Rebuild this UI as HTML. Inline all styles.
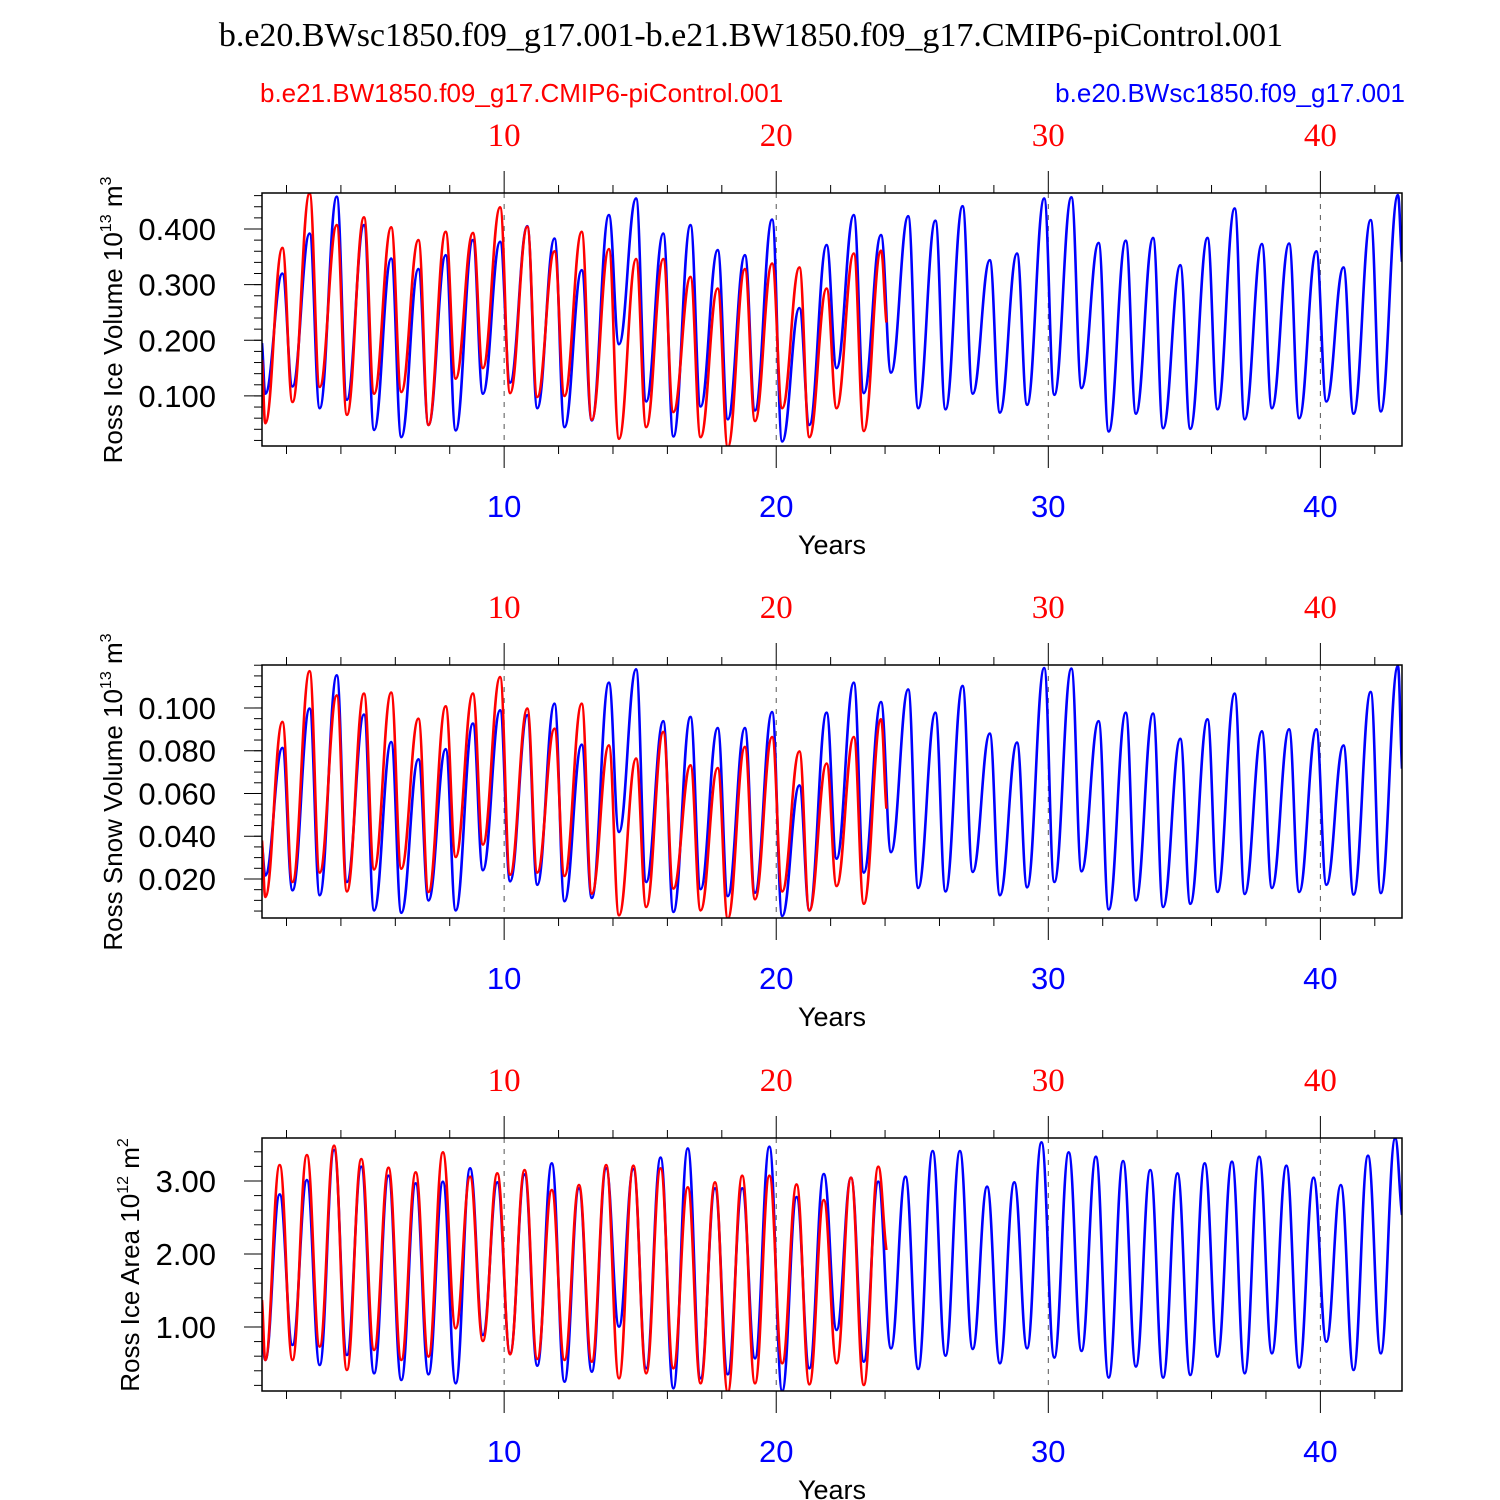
<!DOCTYPE html>
<html><head><meta charset="utf-8"><style>
html,body{margin:0;padding:0;background:#fff;}
svg{display:block;}
</style></head><body>
<svg id="chart" width="1500" height="1500" viewBox="0 0 1500 1500" xmlns="http://www.w3.org/2000/svg">
<text x="751" y="46" text-anchor="middle" font-family="Liberation Serif, serif" font-size="34">b.e20.BWsc1850.f09_g17.001-b.e21.BW1850.f09_g17.CMIP6-piControl.001</text>
<text x="260" y="102" font-family="Liberation Sans, sans-serif" font-size="26" fill="#ff0000">b.e21.BW1850.f09_g17.CMIP6-piControl.001</text>
<text x="1405" y="102" text-anchor="end" font-family="Liberation Sans, sans-serif" font-size="26" fill="#0000ff">b.e20.BWsc1850.f09_g17.001</text>
<g id="plots"></g>
</svg>
<script>
// ---- shared x axis ----
const xTickYears = [10, 20, 30, 40];
const xTickLabels = ["10", "20", "30", "40"];
const xMinorYears = [2,4,6,8,12,14,16,18,22,24,26,28,32,34,36,38,42];

// ---- panel 1: Ross Ice Volume ----
const p1YTicks = [0.1, 0.2, 0.3, 0.4];
const p1YTickLabels = ["0.100", "0.200", "0.300", "0.400"];
const p1BlueStart = 0.195;
const p1BlueTroughs = [0.104,0.117,0.078,0.093,0.039,0.026,0.048,0.038,0.104,0.124,0.078,0.044,0.056,0.193,0.090,0.027,0.081,0.058,0.074,0.018,0.048,0.150,0.105,0.142,0.078,0.076,0.104,0.070,0.084,0.102,0.114,0.036,0.068,0.042,0.041,0.076,0.058,0.078,0.060,0.090,0.068,0.072];
const p1BluePeaks = [0.320,0.392,0.458,0.407,0.347,0.328,0.353,0.380,0.377,0.405,0.383,0.326,0.425,0.455,0.392,0.407,0.362,0.353,0.417,0.258,0.371,0.425,0.389,0.423,0.415,0.441,0.344,0.356,0.455,0.457,0.375,0.379,0.384,0.335,0.384,0.437,0.373,0.374,0.360,0.331,0.416,0.461];
const p1BlueEnd = 0.341;
const p1RedStart = 0.165;
const p1RedTroughs = [0.051,0.089,0.116,0.066,0.104,0.107,0.048,0.131,0.150,0.105,0.098,0.100,0.057,0.023,0.044,0.071,0.026,0.008,0.055,0.078,0.026,0.078,0.037];
const p1RedPeaks = [0.366,0.464,0.407,0.421,0.403,0.380,0.395,0.393,0.439,0.404,0.360,0.395,0.364,0.346,0.346,0.314,0.293,0.328,0.338,0.331,0.293,0.356,0.361];
const p1RedEnd = 0.232;

// ---- panel 2: Ross Snow Volume ----
const p2YTicks = [0.02, 0.04, 0.06, 0.08, 0.1];
const p2YTickLabels = ["0.020", "0.040", "0.060", "0.080", "0.100"];
const p2BlueStart = 0.036;
const p2BlueTroughs = [0.0217,0.0147,0.0124,0.0186,0.0053,0.0042,0.0100,0.0053,0.0241,0.0189,0.0173,0.0096,0.0111,0.0420,0.0186,0.0046,0.0152,0.0120,0.0136,0.0027,0.0053,0.0295,0.0230,0.0326,0.0158,0.0142,0.0233,0.0124,0.0161,0.0186,0.0236,0.0058,0.0100,0.0069,0.0084,0.0139,0.0130,0.0158,0.0139,0.0173,0.0127,0.0134];
const p2BluePeaks = [0.0813,0.0997,0.1153,0.0969,0.0841,0.0760,0.0807,0.0927,0.0989,0.0966,0.1020,0.0828,0.1118,0.1181,0.0938,0.0958,0.0906,0.0906,0.0981,0.0638,0.0978,0.1118,0.1028,0.1087,0.0978,0.1103,0.0880,0.0838,0.1187,0.1184,0.0938,0.0978,0.0974,0.0856,0.0947,0.1067,0.0891,0.0900,0.0900,0.0825,0.1075,0.1196];
const p2BlueEnd = 0.0716;
const p2RedStart = 0.038;
const p2RedTroughs = [0.0116,0.0186,0.0230,0.0142,0.0245,0.0248,0.0139,0.0303,0.0361,0.0220,0.0230,0.0214,0.0131,0.0030,0.0069,0.0155,0.0053,0.0014,0.0105,0.0142,0.0053,0.0167,0.0084];
const p2RedPeaks = [0.0935,0.1172,0.1059,0.1067,0.1072,0.0950,0.1008,0.1067,0.1145,0.0997,0.0903,0.1020,0.0825,0.0763,0.0888,0.0732,0.0719,0.0818,0.0864,0.0797,0.0740,0.0864,0.0947];
const p2RedEnd = 0.0529;

// ---- panel 3: Ross Ice Area ----
const p3YTicks = [1, 2, 3];
const p3YTickLabels = ["1.00", "2.00", "3.00"];
const p3BlueStart = 0.85;
const p3BlueTroughs = [0.548,0.753,0.479,0.616,0.365,0.274,0.352,0.229,0.890,0.639,0.470,0.251,0.388,1.005,0.434,0.160,0.297,0.352,0.571,0.123,0.434,0.959,0.525,0.708,0.425,0.607,0.699,0.502,0.708,0.580,0.671,0.306,0.457,0.306,0.342,0.594,0.365,0.639,0.443,0.799,0.411,0.639];
const p3BluePeaks = [2.817,3.014,3.425,3.196,3.073,2.968,2.991,3.174,2.982,3.091,3.242,2.900,3.174,3.164,3.320,3.447,2.900,2.900,3.470,2.780,3.096,3.045,2.991,3.059,3.411,3.411,2.922,2.982,3.530,3.393,3.333,3.274,3.151,3.105,3.242,3.265,3.333,3.210,3.045,2.945,3.347,3.584];
const p3BlueEnd = 2.534;
const p3RedStart = 1.37;
const p3RedTroughs = [0.548,0.548,0.731,0.411,0.685,0.548,0.594,0.982,0.808,0.626,0.562,0.548,0.525,0.297,0.365,0.434,0.229,0.105,0.229,0.502,0.215,0.502,0.205];
const p3RedPeaks = [3.219,3.356,3.484,3.301,3.182,3.119,3.393,3.059,3.105,3.151,2.877,2.945,3.219,3.210,3.174,2.913,2.982,3.073,3.073,2.954,2.740,3.045,3.196];
const p3RedEnd = 2.055;

const NS = "http://www.w3.org/2000/svg";
const root = document.getElementById("plots");
const X0 = 262, X1 = 1402, XMIN = 1.1, XMAX = 43.0;
function xs(t){ return X0 + (t - XMIN) / (XMAX - XMIN) * (X1 - X0); }
function mk(tag, attrs, parent){
  const e = document.createElementNS(NS, tag);
  for (const k in attrs) e.setAttribute(k, attrs[k]);
  (parent || root).appendChild(e);
  return e;
}
function series(start, troughs, peaks, end, endT, peakFrac){
  const pts = [[XMIN, start]];
  for (let i = 0; i < troughs.length; i++){
    pts.push([i + 1 + 0.22, troughs[i]]);
    if (i < peaks.length) pts.push([i + 1 + peakFrac, peaks[i]]);
  }
  pts.push([endT, end]);
  return pts;
}
// smooth path through extrema with horizontal tangents at interior points
function smoothPath(P){
  let d = "M" + P[0][0].toFixed(1) + "," + P[0][1].toFixed(1);
  for (let i = 1; i < P.length; i++){
    const a = P[i-1], b = P[i], dx = b[0] - a[0];
    const k = 0.42;
    const c1y = (i - 1 === 0) ? a[1] + (b[1] - a[1]) * 0.3 : a[1];
    const c2y = (i === P.length - 1) ? b[1] - (b[1] - a[1]) * 0.3 : b[1];
    d += " C" + (a[0] + dx * k).toFixed(1) + "," + c1y.toFixed(1) + " " + (b[0] - dx * k).toFixed(1) + "," + c2y.toFixed(1) + " " + b[0].toFixed(1) + "," + b[1].toFixed(1);
  }
  return d;
}

const panels = [
  {key:"ice-volume", top:193, bot:446, ymin:0.010, ymax:0.4647, ticks:p1YTicks, labels:p1YTickLabels, minorStep:0.02,
   ylabel:["Ross Ice Volume 10","13"," m","3"], ylabX:122, ylabY:320, peakFrac:0.85,
   blue:[p1BlueStart,p1BlueTroughs,p1BluePeaks,p1BlueEnd], red:[p1RedStart,p1RedTroughs,p1RedPeaks,p1RedEnd]},
  {key:"snow-volume", top:665, bot:918, ymin:0.00175, ymax:0.1201, ticks:p2YTicks, labels:p2YTickLabels, minorStep:0.005,
   ylabel:["Ross Snow Volume 10","13"," m","3"], ylabX:122, ylabY:792, peakFrac:0.85,
   blue:[p2BlueStart,p2BlueTroughs,p2BluePeaks,p2BlueEnd], red:[p2RedStart,p2RedTroughs,p2RedPeaks,p2RedEnd]},
  {key:"ice-area", top:1138, bot:1391, ymin:0.123, ymax:3.589, ticks:p3YTicks, labels:p3YTickLabels, minorStep:0.2,
   ylabel:["Ross Ice Area 10","12"," m","2"], ylabX:139, ylabY:1265, peakFrac:0.75,
   blue:[p3BlueStart,p3BlueTroughs,p3BluePeaks,p3BlueEnd], red:[p3RedStart,p3RedTroughs,p3RedPeaks,p3RedEnd]}
];

panels.forEach((p, idx) => {
  const g = mk("g", {});
  
  
  const ys = v => p.bot - (v - p.ymin) / (p.ymax - p.ymin) * (p.bot - p.top);
  const cid = "clip" + idx;
  const cp = mk("clipPath", {id: cid}, g);
  mk("rect", {x: X0, y: p.top, width: X1 - X0, height: p.bot - p.top}, cp);

  xTickYears.forEach(t => {
    const l = mk("line", {x1: xs(t), x2: xs(t), y1: p.top, y2: p.bot, stroke: "#555", "stroke-width": 1, "stroke-dasharray": "5,6"}, g);
    
    
  });

  [["blue", "#0000ff", p.blue, 43.0], ["red", "#ff0000", p.red, 24.05]].forEach(s => {
    const d = series(s[2][0], s[2][1], s[2][2], s[2][3], s[3], p.peakFrac);
    const P = d.map(q => [xs(q[0]), ys(q[1])]);
    const pl = mk("path", {d: smoothPath(P), fill: "none", stroke: s[1], "stroke-width": 2.6, "stroke-linejoin": "round", "clip-path": "url(#" + cid + ")"}, g);
    
    
  });

  const fr = mk("rect", {x: X0, y: p.top, width: X1 - X0, height: p.bot - p.top, fill: "none", stroke: "#000", "stroke-width": 1.5}, g);
  
  

  xMinorYears.forEach(t => {
    mk("line", {x1: xs(t), x2: xs(t), y1: p.top - 8, y2: p.top, stroke: "#000", "stroke-width": 1}, g);
    mk("line", {x1: xs(t), x2: xs(t), y1: p.bot, y2: p.bot + 8, stroke: "#000", "stroke-width": 1}, g);
  });
  xTickYears.forEach((t, i) => {
    mk("line", {x1: xs(t), x2: xs(t), y1: p.top - 22, y2: p.top, stroke: "#000", "stroke-width": 1}, g);
    mk("line", {x1: xs(t), x2: xs(t), y1: p.bot, y2: p.bot + 22, stroke: "#000", "stroke-width": 1}, g);
    const tt = mk("text", {x: xs(t), y: p.top - 47, "text-anchor": "middle", "font-family": "Liberation Serif, serif", "font-size": 33, fill: "#ff0000"}, g);
    tt.textContent = xTickLabels[i];
    
    
    const bt = mk("text", {x: xs(t), y: p.bot + 71, "text-anchor": "middle", "font-family": "Liberation Sans, sans-serif", "font-size": 31, fill: "#0000ff"}, g);
    bt.textContent = xTickLabels[i];
    
    
  });
  const xt = mk("text", {x: 832, y: p.bot + 108, "text-anchor": "middle", "font-family": "Liberation Sans, sans-serif", "font-size": 27}, g);
  xt.textContent = "Years";
  
  

  const n0 = Math.ceil(p.ymin / p.minorStep - 1e-6), n1 = Math.floor(p.ymax / p.minorStep + 1e-6);
  for (let n = n0; n <= n1; n++){
    const v = n * p.minorStep;
    mk("line", {x1: X0 - 8, x2: X0, y1: ys(v), y2: ys(v), stroke: "#000", "stroke-width": 1}, g);
  }
  p.ticks.forEach((v, i) => {
    mk("line", {x1: X0 - 18, x2: X0, y1: ys(v), y2: ys(v), stroke: "#000", "stroke-width": 1}, g);
    const lt = mk("text", {x: 216, y: ys(v) + 11, "text-anchor": "end", "font-family": "Liberation Sans, sans-serif", "font-size": 31}, g);
    lt.textContent = p.labels[i];
    
    
  });

  const yl = mk("text", {x: 0, y: 0, "text-anchor": "middle", "font-family": "Liberation Sans, sans-serif", "font-size": 26, transform: "translate(" + p.ylabX + "," + p.ylabY + ") rotate(-90)"}, g);
  
  
  const a = mk("tspan", {}, yl); a.textContent = p.ylabel[0];
  const b = mk("tspan", {dy: -11, "font-size": 16}, yl); b.textContent = p.ylabel[1];
  const c = mk("tspan", {dy: 11}, yl); c.textContent = p.ylabel[2];
  const d2 = mk("tspan", {dy: -11, "font-size": 16}, yl); d2.textContent = p.ylabel[3];
});
</script>
</body></html>
